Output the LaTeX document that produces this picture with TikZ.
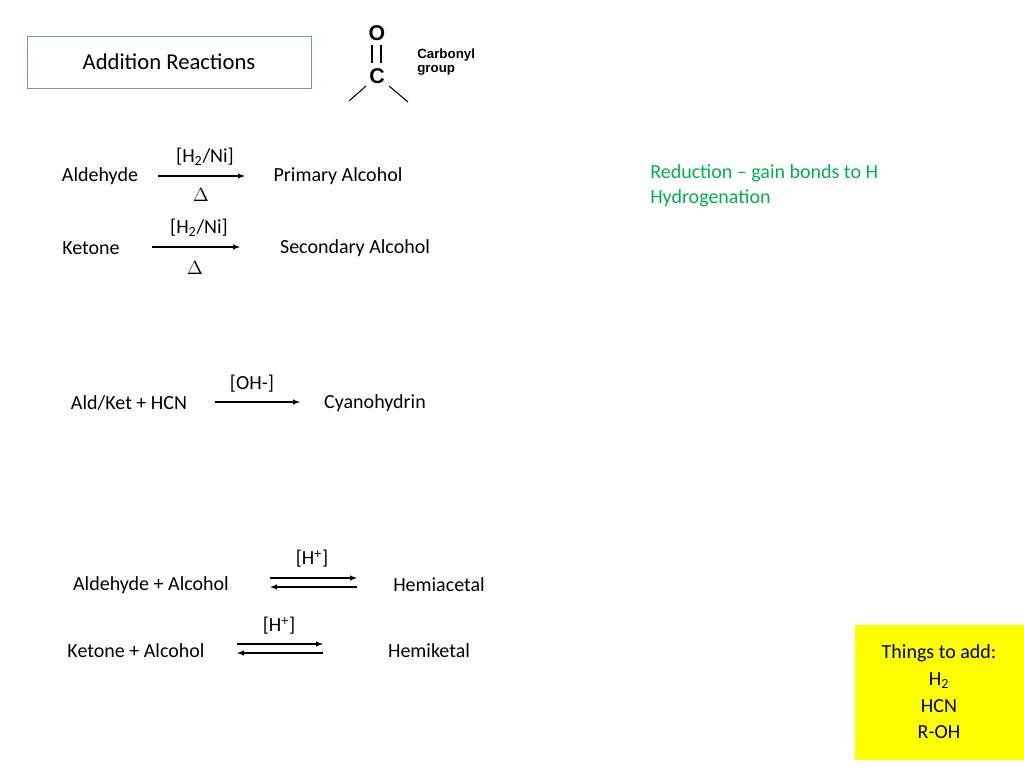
\documentclass[tikz,border=0pt]{standalone}
\usepackage{fontspec}
\setmainfont{Carlito}
\newfontfamily\labelfont{Liberation Sans}
\usepackage{tikz}
\usetikzlibrary{arrows}
\definecolor{redgreen}{RGB}{0,176,80}
\definecolor{notebox}{RGB}{255,255,0}

\begin{document}
\begin{tikzpicture}[x=0.75pt,y=-0.75pt,every node/.style = {font=\fontsize{15}{18}\selectfont},>=latex]

\tikzstyle{chem} = [inner sep=1pt]
\tikzstyle{cond} = [inner sep=1pt]
\tikzstyle{rxn} = [->, thick]
\tikzstyle{atom} = [font=\labelfont\bfseries\fontsize{16}{16}\selectfont, inner sep=0pt]

\useasboundingbox (0,0) rectangle (1024,768);

\node[draw=green!45!black!60, minimum width=284*0.75pt, minimum height=52*0.75pt, font=\fontsize{17}{20}\selectfont] (title) at (169,62) {Addition Reactions};

% carbonyl group
\node[atom] (O) at (377,33) {O};
\node[atom] (C) at (377,76) {C};
\draw[thick] (372,45) -- (372,63) (381,45) -- (381,63);
\draw[thick] (366,86) -- (349,101) (389,86) -- (408,102);
\node[font=\labelfont\bfseries\fontsize{10}{11}\selectfont, align=left, anchor=west, inner sep=0pt] (cg) at (417,62) {Carbonyl\\group};

% hydrogenation
\node[chem] (ald) at (100,176) {Aldehyde};
\node[chem] (prim) at (338,176) {Primary Alcohol};
\coordinate (a1) at (158,176);
\coordinate (a2) at (245,176);
\draw[rxn] (a1) -- (a2);
\node[cond] (c1) at (205,157) {[H\textsubscript{2}/Ni]};
\node[cond] (d1) at (201,195) {$\Delta$};

\node[chem] (ket) at (91,248) {Ketone};
\node[chem] (sec) at (355,248) {Secondary Alcohol};
\coordinate (b1) at (152,247);
\coordinate (b2) at (240,247);
\draw[rxn] (b1) -- (b2);
\node[cond] (c2) at (199,228) {[H\textsubscript{2}/Ni]};
\node[cond] (d2) at (195,268) {$\Delta$};

\node[text=redgreen, align=left, anchor=north west, inner sep=0pt] (note) at (650,164) {Reduction -- gain bonds to H\\[1pt]Hydrogenation};

% cyanohydrin
\node[chem] (hcn) at (129,403) {Ald/Ket + HCN};
\node[chem] (cyan) at (375,403) {Cyanohydrin};
\coordinate (e1) at (215,402);
\coordinate (e2) at (300,402);
\draw[rxn] (e1) -- (e2);
\node[cond] (c3) at (252,384) {[OH-]};

% hemiacetal / hemiketal
\node[chem] (aldal) at (151,585) {Aldehyde + Alcohol};
\node[chem] (hemia) at (439,585) {Hemiacetal};
\coordinate (f1) at (270,578);
\coordinate (f2) at (357,578);
\coordinate (f3) at (270,587);
\coordinate (f4) at (357,587);
\draw[rxn] (f1) -- (f2);
\draw[rxn] (f4) -- (f3);
\node[cond] (c4) at (312,559) {[H\textsuperscript{+}]};

\node[chem] (ketal) at (136,651) {Ketone + Alcohol};
\node[chem] (hemik) at (429,651) {Hemiketal};
\coordinate (g1) at (237,644);
\coordinate (g2) at (323,644);
\coordinate (g3) at (237,653);
\coordinate (g4) at (323,653);
\draw[rxn] (g1) -- (g2);
\draw[rxn] (g4) -- (g3);
\node[cond] (c5) at (279,626) {[H\textsuperscript{+}]};

% things to add
\fill[notebox] (855,625) rectangle (1024,760);
\node[align=center] (add) at (939,692) {Things to add:\\[2pt]H\textsubscript{2}\\[2pt]HCN\\[2pt]R-OH};

\end{tikzpicture}
\end{document}
